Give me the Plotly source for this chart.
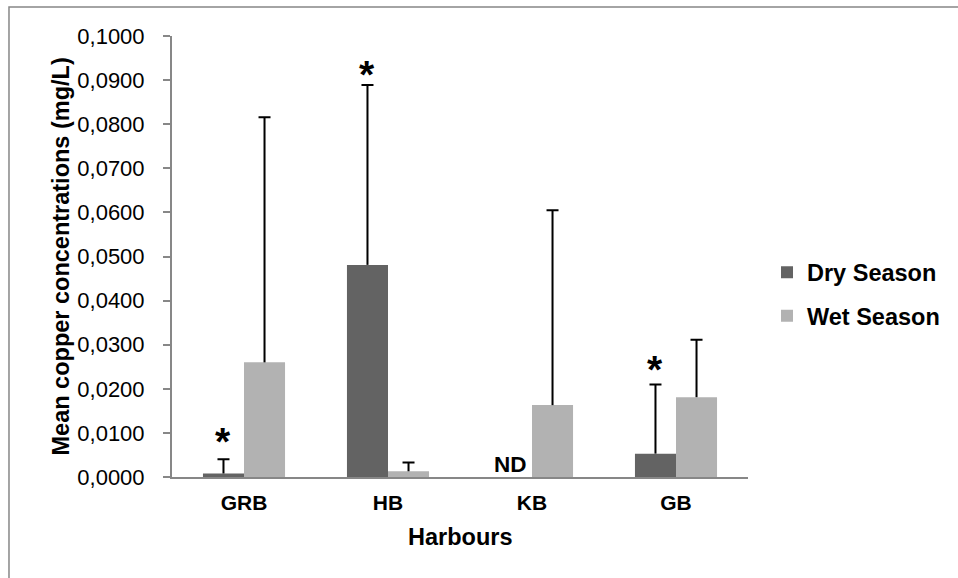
import plotly.graph_objects as go

# ---- data ----
harbours = ["GRB", "HB", "KB", "GB"]
dry_mean = [0.0008, 0.0481, None, 0.0053]
dry_err = [0.0032, 0.0408, None, 0.0157]
wet_mean = [0.0260, 0.0013, 0.0163, 0.0181]
wet_err = [0.0556, 0.0020, 0.0442, 0.0130]
star_labels = ["*", "*", None, "*"]
star_y = [0.0091, 0.0924, None, 0.0254]
nd_labels = [None, None, "ND", None]
y_ticks = [i / 100 for i in range(0, 11)]

DRY = "#636363"
WET = "#b2b2b2"
AXIS = "#878787"
FONT = "Liberation Sans, Arial, sans-serif"
BW = 0.285          # bar width (category units)
SW = 0.014          # whisker stem width (category units)

fig = go.Figure()

# bars
fig.add_trace(go.Bar(x=harbours, y=dry_mean, width=BW, offset=-BW, name="Dry Season",
                     legendgroup="dry", marker=dict(color=DRY, line=dict(width=0))))
fig.add_trace(go.Bar(x=harbours, y=wet_mean, width=BW, offset=0.0, name="Wet Season",
                     legendgroup="wet", marker=dict(color=WET, line=dict(width=0))))

# upward error whiskers: stem drawn as a thin bar from mean to mean+err, cap as a zero-length error bar
for means, errs, centre in [(dry_mean, dry_err, -BW / 2), (wet_mean, wet_err, BW / 2)]:
    fig.add_trace(go.Bar(
        x=harbours, y=errs, base=[m if m is not None else None for m in means],
        width=SW, offset=centre - SW / 2,
        marker=dict(color="black", line=dict(width=0)), showlegend=False, hoverinfo="skip",
        error_y=dict(type="data", symmetric=True, array=[0 if e is not None else None for e in errs],
                     color="black", thickness=2, width=6),
    ))

annotations = []
for h, s, yv in zip(harbours, star_labels, star_y):
    if s:
        annotations.append(dict(x=h, y=yv, xref="x", yref="y", text=s, showarrow=False,
                                xshift=-21.5, yshift=-5, yanchor="middle",
                                font=dict(family=FONT, size=39, color="black", weight="bold")))
for h, t in zip(harbours, nd_labels):
    if t:
        annotations.append(dict(x=h, y=0, xref="x", yref="y", text=t, showarrow=False,
                                xshift=-22, yshift=-2, yanchor="bottom",
                                font=dict(family=FONT, size=22.5, color="black", weight="bold")))

annotations.append(dict(x=0.5, y=0, xref="paper", yref="paper", yshift=-60, yanchor="middle",
                        text="Harbours", showarrow=False,
                        font=dict(family=FONT, size=23.5, color="black", weight="bold")))
annotations.append(dict(x=0, y=0.5, xref="paper", yref="paper", xshift=-112, xanchor="center",
                        text="Mean copper concentrations (mg/L)", textangle=-90, showarrow=False,
                        font=dict(family=FONT, size=23.5, color="black", weight="bold")))

fig.update_layout(
    width=958, height=578,
    margin=dict(l=172, r=210, t=36, b=101),
    paper_bgcolor="white", plot_bgcolor="white",
    barmode="overlay",
    separators=", ",
    showlegend=True,
    legend=dict(x=1.033, xanchor="left", xref="paper", y=0.4138, yanchor="middle",
                font=dict(family=FONT, size=23.5, color="black", weight="bold"),
                traceorder="grouped", tracegroupgap=10, bgcolor="rgba(0,0,0,0)"),
    annotations=annotations,
    shapes=[dict(type="rect", xref="paper", yref="paper",
                 x0=-0.283, x1=2.0, y0=-1.0, y1=1.0658,
                 line=dict(color=AXIS, width=1.5), fillcolor="rgba(0,0,0,0)", layer="below")],
    font=dict(family=FONT, color="black"),
)

fig.update_xaxes(
    type="category", range=[-0.5, 3.5], showline=True, linecolor=AXIS, linewidth=2,
    ticks="", showgrid=False, zeroline=False, ticklabelstandoff=6,
    tickfont=dict(family=FONT, size=21, color="black", weight="bold"),
)
fig.update_yaxes(
    range=[0, 0.1], tickvals=y_ticks, tickformat=".4f", showline=True, linecolor=AXIS,
    linewidth=2, ticks="outside", ticklen=7, tickwidth=2, tickcolor=AXIS,
    showgrid=False, zeroline=False, ticklabelstandoff=14,
    tickfont=dict(family=FONT, size=22, color="black"),
)

fig.write_html("out.html")
